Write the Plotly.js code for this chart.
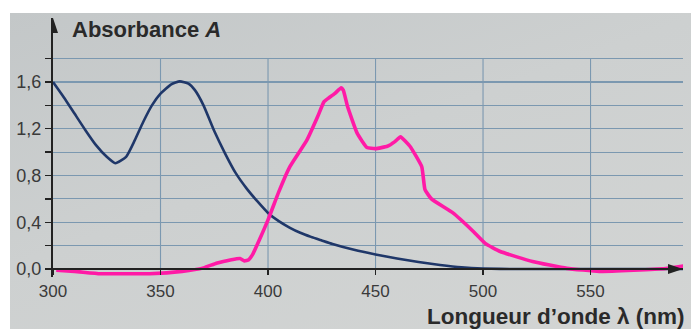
<!DOCTYPE html>
<html>
<head>
<meta charset="utf-8">
<script src="https://cdn.plot.ly/plotly-3.0.1.min.js"></script>
<style>
  html, body { margin: 0; padding: 0; background: #ffffff; width: 691px; height: 329px; overflow: hidden; }
  #chart { position: absolute; left: 10px; top: 13px; width: 681px; height: 316px;
           background: linear-gradient(160deg, #c3c7c8 0%, #cdd0d0 45%, #d3d5d4 100%); }
</style>
</head>
<body>
<div id="chart"></div>
<script>
// Spectre (courbe bleue imprimée)
const blueWavelength = [300, 305, 310, 315, 320, 325, 329, 334, 338, 342, 346, 350, 355, 359, 363, 366, 370, 375, 380, 385, 390, 395, 400, 405, 410, 415, 420, 425, 430, 440, 450, 460, 470, 480, 490, 500, 515, 593];
const blueAbsorbance = [1.60, 1.47, 1.33, 1.19, 1.06, 0.96, 0.905, 0.96, 1.10, 1.26, 1.40, 1.50, 1.58, 1.605, 1.585, 1.53, 1.40, 1.18, 0.99, 0.82, 0.69, 0.58, 0.48, 0.41, 0.355, 0.31, 0.275, 0.245, 0.215, 0.165, 0.125, 0.09, 0.06, 0.035, 0.015, 0.005, 0.0, 0.0];

// Spectre (courbe rose tracée à la main)
const pinkWavelength = [301.5, 310, 322, 335, 345, 360, 370, 376, 383, 387, 389, 391, 393, 396, 400, 405, 410, 418, 423, 426, 428, 431, 434, 435, 437, 441.5, 446, 450, 455.5, 459, 461.6, 466, 471.5, 473, 476, 486, 495, 501, 508, 523, 539, 554, 570, 585, 596];
const pinkAbsorbance = [-0.01, -0.02, -0.04, -0.04, -0.04, -0.02, 0.01, 0.05, 0.08, 0.09, 0.07, 0.08, 0.13, 0.25, 0.42, 0.66, 0.87, 1.10, 1.30, 1.43, 1.46, 1.50, 1.55, 1.53, 1.39, 1.16, 1.04, 1.03, 1.05, 1.09, 1.13, 1.05, 0.875, 0.68, 0.60, 0.48, 0.33, 0.22, 0.15, 0.065, 0.006, -0.02, -0.01, 0.005, 0.035];

// Axes
const xTickValues = [300, 350, 400, 450, 500, 550];
const xTickLabels = ['300', '350', '400', '450', '500', '550'];
const yTickValues = [0.0, 0.2, 0.4, 0.6, 0.8, 1.0, 1.2, 1.4, 1.6, 1.8];
const yTickLabels = ['0,0', '', '0,4', '', '0,8', '', '1,2', '', '1,6', ''];
const xRange = [300, 593];
const yRange = [-0.068, 2.147];

const gridColor = '#7b98b0';
const axisColor = '#222222';
const textColor = '#3a3a3a';
const fontFam = '"Liberation Sans", Arial, sans-serif';

const shapes = [];
// vertical grid lines (stop at the top horizontal grid line)
xTickValues.slice(1).forEach(v => {
  shapes.push({type: 'line', xref: 'x', yref: 'y', x0: v, x1: v, y0: 0, y1: yTickValues[yTickValues.length - 1],
               line: {color: gridColor, width: 1.1}, layer: 'below'});
});
// arrow heads
const yPerPx = (yRange[1] - yRange[0]) / 259;
const xPerPx = (xRange[1] - xRange[0]) / 630;
shapes.push({type: 'path', xref: 'x', yref: 'y', fillcolor: axisColor, line: {width: 0},
  path: `M ${xRange[0]} ${yRange[1]} L ${xRange[0] - 5 * xPerPx} ${yRange[1] - 15 * yPerPx} L ${xRange[0] + 5 * xPerPx} ${yRange[1] - 15 * yPerPx} Z`});
shapes.push({type: 'path', xref: 'x', yref: 'y', fillcolor: axisColor, line: {width: 0},
  path: `M ${xRange[1]} 0 L ${xRange[1] - 15 * xPerPx} ${5 * yPerPx} L ${xRange[1] - 15 * xPerPx} ${-5 * yPerPx} Z`});

const data = [
  {x: blueWavelength, y: blueAbsorbance, type: 'scatter', mode: 'lines',
   line: {color: '#1f3769', width: 2.6, shape: 'spline', smoothing: 0.5}, hoverinfo: 'skip'},
  {x: pinkWavelength, y: pinkAbsorbance, type: 'scatter', mode: 'lines',
   line: {color: '#ff1aa6', width: 3.6, shape: 'spline', smoothing: 0.4}, hoverinfo: 'skip'}
];

const layout = {
  width: 681, height: 316,
  margin: {l: 43, r: 8, t: 5, b: 52},
  paper_bgcolor: 'rgba(0,0,0,0)',
  plot_bgcolor: 'rgba(0,0,0,0)',
  showlegend: false,
  xaxis: {
    range: xRange, tickvals: xTickValues, ticktext: xTickLabels,
    showgrid: false, zeroline: false,
    anchor: 'free', position: (0 - yRange[0]) / (yRange[1] - yRange[0]),
    showline: true, linecolor: axisColor, linewidth: 2,
    ticks: 'outside', ticklen: 5, tickwidth: 1.5, tickcolor: axisColor,
    ticklabelstandoff: 2,
    tickfont: {family: fontFam, size: 17, color: textColor}
  },
  yaxis: {
    range: yRange, tickvals: yTickValues, ticktext: yTickLabels,
    showgrid: true, gridcolor: gridColor, gridwidth: 1.1, zeroline: false,
    showline: true, linecolor: axisColor, linewidth: 2,
    ticks: 'outside', ticklen: 6, tickwidth: 1.5, tickcolor: axisColor,
    tickfont: {family: fontFam, size: 18, color: textColor}
  },
  shapes: shapes,
  annotations: [
    {text: '<b>Absorbance <i>A</i></b>', xref: 'paper', yref: 'paper', x: 0.027, y: 0.954,
     xanchor: 'left', yanchor: 'middle', showarrow: false,
     font: {family: fontFam, size: 22, color: '#2a2a2a'}},
    {text: '<b>Longueur d’onde λ (nm)</b>', xref: 'paper', yref: 'paper', x: 1.005, y: -0.152,
     xanchor: 'right', yanchor: 'middle', showarrow: false,
     font: {family: fontFam, size: 22.5, color: '#2a2a2a'}}
  ]
};

Plotly.newPlot('chart', data, layout, {staticPlot: true, displayModeBar: false});
</script>
</body>
</html>
